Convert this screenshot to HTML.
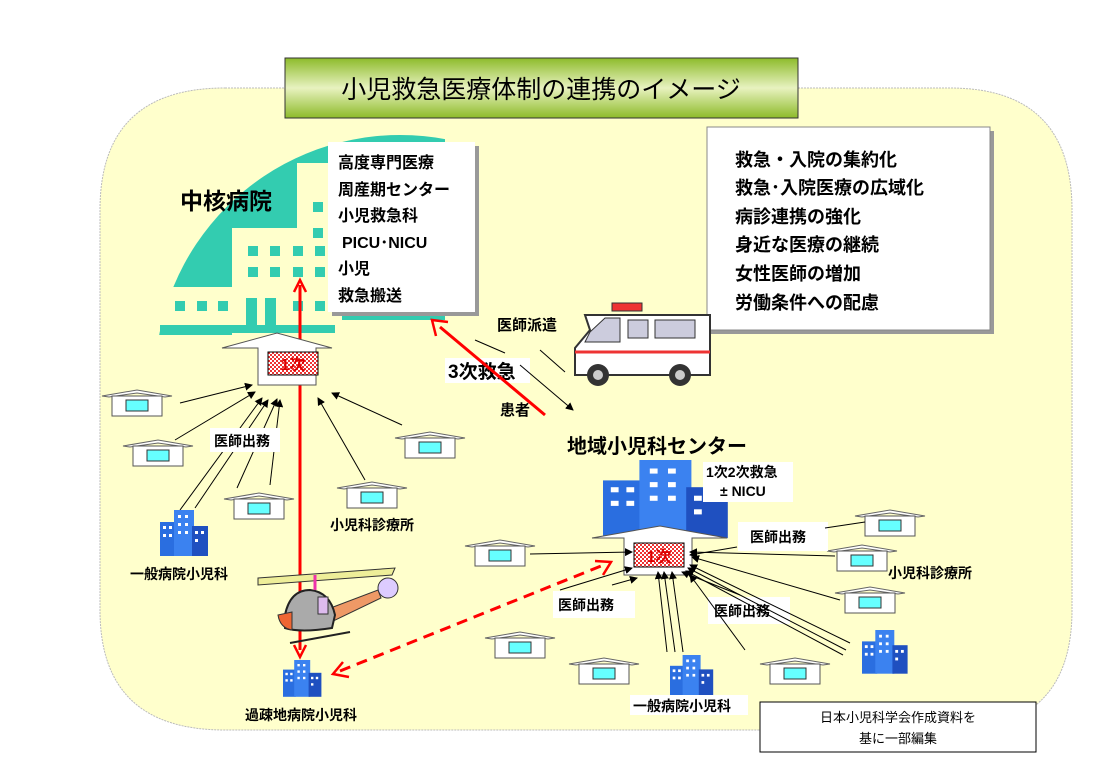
<!DOCTYPE html>
<html><head><meta charset="utf-8"><style>
body{margin:0;background:#fff;}
svg{display:block;font-family:"Liberation Sans","Noto Sans CJK JP",sans-serif;}
.b{font-weight:bold;}
</style></head><body>
<svg width="1113" height="784" viewBox="0 0 1113 784" xmlns="http://www.w3.org/2000/svg">
<defs>
<linearGradient id="g" x1="0" y1="0" x2="0" y2="1"><stop offset="0" stop-color="#8dbb2a"/><stop offset="0.5" stop-color="#e8f2c0"/><stop offset="1" stop-color="#8dbb2a"/></linearGradient>
<pattern id="chk" width="4" height="4" patternUnits="userSpaceOnUse"><rect width="4" height="4" fill="#fff"/><rect width="2" height="2" fill="#e33"/><rect x="2" y="2" width="2" height="2" fill="#e33"/></pattern>
<marker id="ah" markerWidth="8" markerHeight="8" refX="7" refY="4" orient="auto"><path d="M0,0 L8,4 L0,8 z" fill="#000"/></marker>
<clipPath id="cc"><rect x="100" y="100" width="345" height="220"/><rect x="100" y="320" width="235" height="15"/></clipPath>
<g id="h"><path d="M-35,6 L0,0 L35,6 L28,7 L0,3 L-28,7 z" fill="#fff" stroke="#666" stroke-width="1"/><rect x="-25" y="6" width="50" height="20" fill="#fff" stroke="#555"/><rect x="-11" y="10" width="22" height="11" fill="#6ff" stroke="#333"/></g>
<g id="bl"><rect x="0" y="12" width="16" height="34" fill="#2a6ee0"/><rect x="14" y="0" width="20" height="46" fill="#3b82f0"/><rect x="32" y="16" width="16" height="30" fill="#1f50c0"/>
<g fill="#fff"><rect x="3" y="16" width="3" height="3"/><rect x="9" y="16" width="3" height="3"/><rect x="3" y="24" width="3" height="3"/><rect x="9" y="24" width="3" height="3"/><rect x="18" y="5" width="3" height="3"/><rect x="25" y="5" width="3" height="3"/><rect x="18" y="13" width="3" height="3"/><rect x="25" y="13" width="3" height="3"/><rect x="18" y="21" width="3" height="3"/><rect x="25" y="21" width="3" height="3"/><rect x="35" y="21" width="3" height="3"/><rect x="41" y="21" width="3" height="3"/><rect x="35" y="29" width="3" height="3"/></g></g>
</defs>
<path d="M225,88 H950 Q1072,88 1072,210 V610 Q1072,730 950,730 H225 Q100,730 100,610 V210 Q100,88 225,88 z" fill="#ffffcc" stroke="#bbb" stroke-dasharray="2,1"/>
<g clip-path="url(#cc)"><circle cx="400" cy="380" r="245" fill="#33ccb0"/></g>
<g fill="#ffffcc"><rect x="297" y="163" width="40" height="190"/><rect x="232" y="228" width="110" height="125"/><rect x="158" y="287" width="180" height="38"/></g>
<g fill="#33ccb0"><rect x="313" y="202" width="10" height="10"/><rect x="313" y="228" width="10" height="10"/><rect x="248" y="246" width="10" height="10"/><rect x="270" y="246" width="10" height="10"/><rect x="293" y="246" width="10" height="10"/><rect x="315" y="246" width="10" height="10"/><rect x="248" y="267" width="10" height="10"/><rect x="270" y="267" width="10" height="10"/><rect x="293" y="267" width="10" height="10"/><rect x="315" y="267" width="10" height="10"/><rect x="175" y="301" width="10" height="10"/><rect x="197" y="301" width="10" height="10"/><rect x="218" y="301" width="10" height="10"/><rect x="246" y="298" width="11" height="28"/><rect x="265" y="298" width="11" height="28"/><rect x="293" y="301" width="10" height="10"/><rect x="315" y="301" width="10" height="10"/><rect x="160" y="325" width="175" height="8"/></g>
<text x="180" y="209" font-size="23" class="b">中核病院</text>
<rect x="285" y="58" width="513" height="60" fill="url(#g)" stroke="#333"/>
<text x="541" y="98" font-size="25" text-anchor="middle">小児救急医療体制の連携のイメージ</text>
<rect x="332" y="146" width="147" height="170" fill="#999"/>
<rect x="328" y="142" width="147" height="170" fill="#fff"/>
<g font-size="16" class="b"><text x="338" y="168">高度専門医療</text><text x="338" y="195">周産期センター</text><text x="338" y="221">小児救急科</text><text x="342" y="248">PICU･NICU</text><text x="338" y="274">小児</text><text x="338" y="301">救急搬送</text></g>
<rect x="711" y="131" width="283" height="203" fill="#999"/>
<rect x="707" y="127" width="283" height="203" fill="#fff" stroke="#888"/>
<g font-size="18" class="b"><text x="735" y="166">救急・入院の集約化</text><text x="735" y="194">救急･入院医療の広域化</text><text x="735" y="223">病診連携の強化</text><text x="735" y="251">身近な医療の継続</text><text x="735" y="280">女性医師の増加</text><text x="735" y="309">労働条件への配慮</text></g>
<g stroke="#000" stroke-width="1" marker-end="url(#ah)">
<line x1="180" y1="403" x2="252" y2="385"/><line x1="175" y1="440" x2="255" y2="392"/><line x1="180" y1="510" x2="262" y2="398"/><line x1="195" y1="508" x2="268" y2="400"/><line x1="237" y1="488" x2="277" y2="399"/><line x1="270" y1="485" x2="280" y2="400"/><line x1="365" y1="480" x2="318" y2="398"/><line x1="402" y1="425" x2="332" y2="393"/>
</g>
<line x1="300" y1="285" x2="300" y2="650" stroke="#f00" stroke-width="3"/>
<path d="M294,292 L300,280 L306,292" fill="none" stroke="#f00" stroke-width="2.5"/>
<path d="M294,645 L300,657 L306,645" fill="none" stroke="#f00" stroke-width="2.5"/>
<path d="M222,348 L277,333 L332,348 L316,348 L316,385 L258,385 L258,348 z" fill="#fff" stroke="#555"/>
<rect x="268" y="352" width="50" height="23" fill="url(#chk)" stroke="#000"/>
<text x="293" y="370" font-size="16" class="b" fill="#d00" text-anchor="middle">1次</text>
<use href="#h" x="137" y="390"/><use href="#h" x="158" y="440"/><use href="#h" x="259" y="493"/><use href="#h" x="372" y="482"/><use href="#h" x="430" y="432"/>
<use href="#h" x="500" y="540"/><use href="#h" x="520" y="632"/><use href="#h" x="604" y="658"/><use href="#h" x="795" y="658"/><use href="#h" x="890" y="510"/><use href="#h" x="862" y="545"/><use href="#h" x="870" y="587"/>
<use href="#bl" x="160" y="510"/>
<g transform="translate(283,660) scale(0.8)"><use href="#bl"/></g>
<g transform="translate(670,655) scale(0.9)"><use href="#bl"/></g>
<g transform="translate(862,630) scale(0.95)"><use href="#bl"/></g>
<g transform="translate(603,460) scale(2.6,1.7)"><use href="#bl"/></g>
<g font-size="14" class="b">
<rect x="210" y="428" width="70" height="24" fill="#fff"/><text x="214" y="446">医師出務</text>
<text x="330" y="530">小児科診療所</text>
<text x="130" y="579">一般病院小児科</text>
<text x="245" y="720">過疎地病院小児科</text>
<rect x="553" y="591" width="82" height="27" fill="#fff"/><text x="558" y="610">医師出務</text>
<rect x="708" y="597" width="82" height="27" fill="#fff"/><text x="714" y="616">医師出務</text>
<rect x="738" y="522" width="90" height="29" fill="#fff"/><text x="750" y="542">医師出務</text>
<text x="888" y="578">小児科診療所</text>
<rect x="630" y="695" width="118" height="20" fill="#fff"/><text x="633" y="711">一般病院小児科</text>
<text x="497" y="330" font-size="15">医師派遣</text>
<text x="500" y="415" font-size="15">患者</text>
</g>
<rect x="445" y="358" width="85" height="25" fill="#fff"/>
<text x="448" y="378" font-size="19" class="b">3次救急</text>
<line x1="545" y1="415" x2="440" y2="327" stroke="#f00" stroke-width="3"/>
<path d="M436,336 L432,320 L448,322" fill="none" stroke="#f00" stroke-width="2.5"/>
<g stroke="#000" stroke-width="1"><line x1="520" y1="365" x2="573" y2="410" marker-end="url(#ah)"/><line x1="540" y1="350" x2="565" y2="372"/><line x1="475" y1="340" x2="505" y2="353"/></g>
<g>
<path d="M585,315 H710 V375 H575 V348 L590,330 z" fill="#fff" stroke="#333" stroke-width="2"/>
<rect x="612" y="303" width="30" height="8" fill="#e33" stroke="#333"/>
<path d="M590,332 L605,318 H620 V342 H585 z" fill="#ccd" stroke="#333"/>
<rect x="628" y="320" width="20" height="18" fill="#ccd" stroke="#333"/>
<rect x="655" y="320" width="40" height="18" fill="#ccd" stroke="#333"/>
<line x1="575" y1="352" x2="710" y2="352" stroke="#e33" stroke-width="3"/>
<circle cx="598" cy="375" r="11" fill="#333"/><circle cx="598" cy="375" r="5" fill="#ccc"/>
<circle cx="680" cy="375" r="11" fill="#333"/><circle cx="680" cy="375" r="5" fill="#ccc"/>
</g>
<text x="567" y="453" font-size="20" class="b">地域小児科センター</text>
<rect x="703" y="462" width="90" height="40" fill="#fff"/>
<text x="706" y="477" font-size="14" class="b">1次2次救急</text>
<text x="720" y="496" font-size="14" class="b">± NICU</text>
<path d="M592,538 L660,526 L727,538 L692,538 L692,575 L624,575 L624,538 z" fill="#fff" stroke="#555"/>
<rect x="634" y="543" width="50" height="24" fill="url(#chk)" stroke="#000"/>
<text x="659" y="562" font-size="16" class="b" fill="#d00" text-anchor="middle">1次</text>
<g stroke="#000" stroke-width="1" marker-end="url(#ah)">
<line x1="530" y1="554" x2="632" y2="552"/><line x1="560" y1="590" x2="632" y2="568"/><line x1="612" y1="585" x2="637" y2="578"/><line x1="667" y1="652" x2="658" y2="572"/><line x1="675" y1="652" x2="664" y2="572"/><line x1="683" y1="652" x2="672" y2="572"/><line x1="740" y1="595" x2="682" y2="572"/><line x1="835" y1="556" x2="690" y2="552"/><line x1="840" y1="600" x2="692" y2="557"/><line x1="850" y1="643" x2="690" y2="565"/><line x1="846" y1="650" x2="688" y2="568"/><line x1="843" y1="655" x2="686" y2="571"/><line x1="737" y1="547" x2="690" y2="555"/><line x1="745" y1="650" x2="690" y2="575"/>
</g>
<line x1="825" y1="528" x2="865" y2="522" stroke="#000"/>
<line x1="340" y1="671" x2="606" y2="564" stroke="#f00" stroke-width="3" stroke-dasharray="11,7"/>
<path d="M595,561 L611,562 L603,575" fill="none" stroke="#f00" stroke-width="2.5"/>
<path d="M343,662 L333,674 L349,677" fill="none" stroke="#f00" stroke-width="2.5"/>
<g>
<path d="M258,578 L395,568 L392,575 L258,585 z" fill="#ee9" stroke="#333"/>
<path d="M320,612 L378,590 L381,598 L325,625 z" fill="#e96" stroke="#333"/>
<circle cx="388" cy="588" r="10" fill="#dcf" stroke="#333"/>
<path d="M285,615 Q290,590 310,590 Q330,592 335,615 L332,628 Q300,633 285,628 z" fill="#aaa" stroke="#222" stroke-width="2"/>
<rect x="318" y="597" width="10" height="17" fill="#dbe" stroke="#333"/>
<path d="M278,615 L292,612 L292,630 Q280,628 278,615 z" fill="#e63" stroke="#333"/>
<line x1="290" y1="643" x2="350" y2="632" stroke="#222" stroke-width="2"/>
<line x1="315" y1="575" x2="315" y2="590" stroke="#e3a" stroke-width="3"/>
</g>
<rect x="760" y="702" width="276" height="50" fill="#fff" stroke="#000"/>
<text x="898" y="722" font-size="13" text-anchor="middle">日本小児科学会作成資料を</text>
<text x="898" y="743" font-size="13" text-anchor="middle">基に一部編集</text>
</svg>
</body></html>
